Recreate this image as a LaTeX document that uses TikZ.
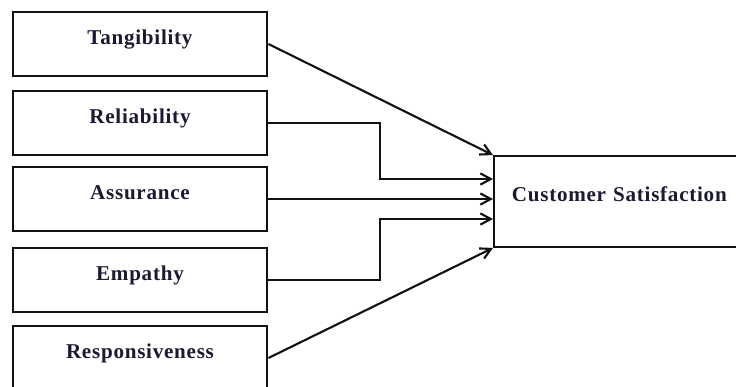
\documentclass[tikz,border=0pt]{standalone}
\usepackage{fontspec}
\setmainfont{Liberation Serif}[LetterSpace=3.5]
\usepackage{tikz}
\usetikzlibrary{arrows.meta,positioning,calc}
\definecolor{ink}{HTML}{111111}
\definecolor{textink}{HTML}{1A1A33}
\tikzset{
  dimbox/.style={draw=ink,fill=white,line width=2pt,
                 minimum width=6.35cm,minimum height=1.6cm,
                 align=center,inner sep=0pt,
                 text height=10pt,text depth=9pt,
                 font=\fontsize{15}{18}\selectfont\bfseries,text=textink},
  outcomebox/.style={draw=ink,fill=white,line width=1.3pt,
                     minimum height=2.275cm,text width=7cm,
                     align=left,inner xsep=0.45cm,inner ysep=0pt,
                     text height=10pt,text depth=9.5pt,
                     font=\fontsize{15}{18}\selectfont\bfseries,text=textink},
  linkarr/.style={-{Straight Barb[length=2.6mm,width=2.8mm]},line width=1.5pt,draw=ink}
}

\begin{document}
\begin{tikzpicture}[x=0.025cm,y=-0.025cm]
    \useasboundingbox (0,0) rectangle (736,387);
    \clip (0,0) rectangle (736,387);
    \node[dimbox] (tang) at (140,44) {Tangibility};
    \node[dimbox] (rel) at (140,123) {Reliability};
    \node[dimbox] (assu) at (140,199) {Assurance};
    \node[dimbox] (emp) at (140,280) {Empathy};
    \node[dimbox] (resp) at (140,358) {Responsiveness};

    \node[outcomebox,anchor=west] (cs) at (493,201.5) {Customer Satisfaction};

    % entry points and bend line of the stepped links
    \coordinate (relin) at ($(cs.west)+(0,-22.5)$);
    \coordinate (empin) at ($(cs.west)+(0,17.5)$);
    \coordinate (bend) at (380,0);

    \draw[linkarr] (tang.east) -- (cs.north west);
    \draw[linkarr] (rel.east) -| (bend |- relin) -- (relin);
    \draw[linkarr] (assu.east) -- (assu.east -| cs.west);
    \draw[linkarr] (emp.east) -| (bend |- empin) -- (empin);
    \draw[linkarr] (resp.east) -- (cs.south west);
  \end{tikzpicture}
\end{document}
